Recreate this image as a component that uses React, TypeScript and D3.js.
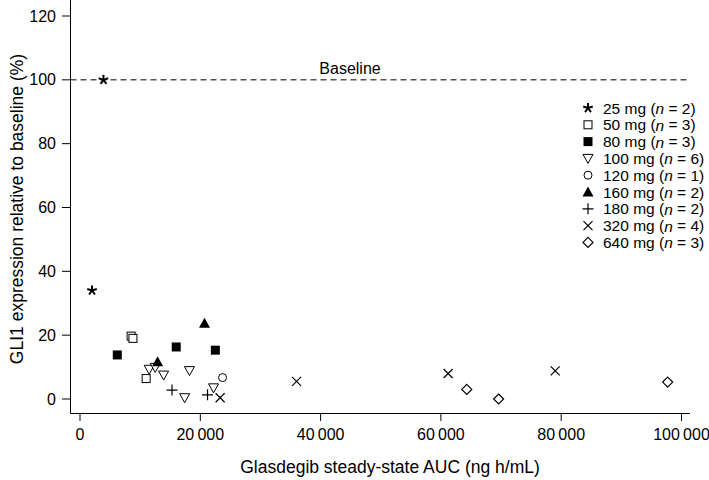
import React from "react";
import * as d3 from "d3";

const doseLabels = ["25 mg", "50 mg", "80 mg", "100 mg", "120 mg", "160 mg", "180 mg", "320 mg", "640 mg"];
const nCounts = [2, 3, 3, 6, 1, 2, 2, 4, 3];
const markerKinds = ["asterisk", "squareOpen", "squareFilled", "triDownOpen", "circleOpen", "triUpFilled", "plus", "cross", "diamondOpen"];

const auc25 = [3900, 2000];
const gli25 = [100, 34];
const auc50 = [8500, 8800, 11000];
const gli50 = [19.7, 19.0, 6.4];
const auc80 = [6200, 16000, 22500];
const gli80 = [13.8, 16.3, 15.3];
const auc100 = [11500, 12500, 13900, 18200, 17400, 22200];
const gli100 = [9.3, 9.9, 7.5, 8.9, 0.4, 3.5];
const auc120 = [23700];
const gli120 = [6.7];
const auc160 = [12900, 20700];
const gli160 = [11.7, 23.7];
const auc180 = [15300, 21200];
const gli180 = [2.8, 1.3];
const auc320 = [23300, 36000, 61200, 79000];
const gli320 = [0.4, 5.5, 8.0, 8.8];
const auc640 = [64300, 69600, 97700];
const gli640 = [3.0, 0, 5.3];

const xTicks = [0, 20000, 40000, 60000, 80000, 100000];
const yTicks = [0, 20, 40, 60, 80, 100, 120];
const baselineValue = 100;

const seriesAuc = [auc25, auc50, auc80, auc100, auc120, auc160, auc180, auc320, auc640];
const seriesGli = [gli25, gli50, gli80, gli100, gli120, gli160, gli180, gli320, gli640];

const FONT = "'Liberation Sans', Arial, Helvetica, sans-serif";

function Marker({ kind, x, y }: { kind: string; x: number; y: number }) {
  const t = `translate(${x},${y})`;
  switch (kind) {
    case "asterisk": {
      const arms = d3.range(5).map((i) => {
        const a = (i * 2 * Math.PI) / 5 - Math.PI / 2;
        return [Math.cos(a) * 5, Math.sin(a) * 5];
      });
      return (
        <g transform={t} stroke="#000" strokeWidth={2} strokeLinecap="butt">
          {arms.map((p, i) => (
            <line key={i} x1={0} y1={0} x2={p[0]} y2={p[1]} />
          ))}
        </g>
      );
    }
    case "squareOpen":
      return <rect transform={t} x={-4} y={-4} width={8} height={8} fill="#fff" stroke="#000" strokeWidth={1} />;
    case "squareFilled":
      return <rect transform={t} x={-4.5} y={-4.5} width={9} height={9} fill="#000" />;
    case "triDownOpen":
      return <path transform={t} d="M-5,-4 L5,-4 L0,5 Z" fill="#fff" stroke="#000" strokeWidth={1} />;
    case "triUpFilled":
      return <path transform={t} d="M-5.5,4.5 L5.5,4.5 L0,-5.5 Z" fill="#000" />;
    case "circleOpen":
      return <circle cx={x} cy={y} r={4} fill="#fff" stroke="#000" strokeWidth={1} />;
    case "plus":
      return <path transform={t} d="M-5.5,0 L5.5,0 M0,-5.5 L0,5.5" stroke="#000" strokeWidth={1.2} fill="none" />;
    case "cross":
      return <path transform={t} d="M-4.5,-4.5 L4.5,4.5 M-4.5,4.5 L4.5,-4.5" stroke="#000" strokeWidth={1.2} fill="none" />;
    case "diamondOpen":
      return <path transform={t} d="M0,-5 L5,0 L0,5 L-5,0 Z" fill="#fff" stroke="#000" strokeWidth={1.2} />;
    default:
      return null;
  }
}

function fmtX(v: number) {
  return d3.format(",")(v).replace(/,/g, "\u2009");
}

export default function App() {
  const W = 709;
  const H = 480;
  const x = d3.scaleLinear().domain([0, 100000]).range([80, 681.5]);
  const y = d3.scaleLinear().domain([0, 120]).range([399, 16]);
  const axisX = 70.5;
  const axisY = 413.5;

  return (
    <svg
      width={W}
      height={H}
      style={{ position: "absolute", left: 0, top: 0, background: "#fff" }}
      fontFamily={FONT}
    >
      <rect x={0} y={0} width={W} height={H} fill="#fff" />
      {/* Y axis */}
      <line x1={axisX} y1={0} x2={axisX} y2={axisY} stroke="#000" strokeWidth={1} />
      {yTicks.map((t) => (
        <g key={t}>
          <line x1={62} x2={axisX} y1={y(t)} y2={y(t)} stroke="#000" strokeWidth={1} />
          <text x={56} y={y(t)} textAnchor="end" dominantBaseline="central" fontSize={16} fill="#000">
            {t}
          </text>
        </g>
      ))}
      {/* X axis */}
      <line x1={axisX} y1={axisY} x2={690} y2={axisY} stroke="#000" strokeWidth={1} />
      {xTicks.map((t) => (
        <g key={t}>
          <line x1={x(t)} x2={x(t)} y1={axisY} y2={421} stroke="#000" strokeWidth={1} />
          <text x={x(t)} y={440} textAnchor="middle" fontSize={16} fill="#000">
            {fmtX(t)}
          </text>
        </g>
      ))}
      {/* Axis titles */}
      <text x={390} y={473} textAnchor="middle" fontSize={17.5} fill="#000">
        Glasdegib steady-state AUC (ng h/mL)
      </text>
      <text
        transform={`translate(17,209) rotate(-90)`}
        textAnchor="middle"
        dominantBaseline="central"
        fontSize={17.5}
        fill="#000"
      >
        GLI1 expression relative to baseline (%)
      </text>
      {/* Baseline */}
      <line
        x1={axisX}
        x2={690}
        y1={y(baselineValue)}
        y2={y(baselineValue)}
        stroke="#000"
        strokeWidth={1}
        strokeDasharray="6,4"
      />
      <text x={350} y={73.5} textAnchor="middle" fontSize={16} fill="#000">
        Baseline
      </text>
      {/* Points */}
      {seriesAuc.map((arr, si) =>
        arr.map((v, i) => (
          <Marker key={`${si}-${i}`} kind={markerKinds[si]} x={x(v)} y={y(seriesGli[si][i])} />
        ))
      )}
      {/* Legend */}
      {doseLabels.map((lab, i) => {
        const ly = 108 + i * 16.8;
        return (
          <g key={lab}>
            <Marker kind={markerKinds[i]} x={588} y={ly} />
            <text x={603} y={ly} dominantBaseline="central" fontSize={15.5} fill="#000">
              {lab} (<tspan fontStyle="italic">n</tspan> = {nCounts[i]})
            </text>
          </g>
        );
      })}
    </svg>
  );
}
